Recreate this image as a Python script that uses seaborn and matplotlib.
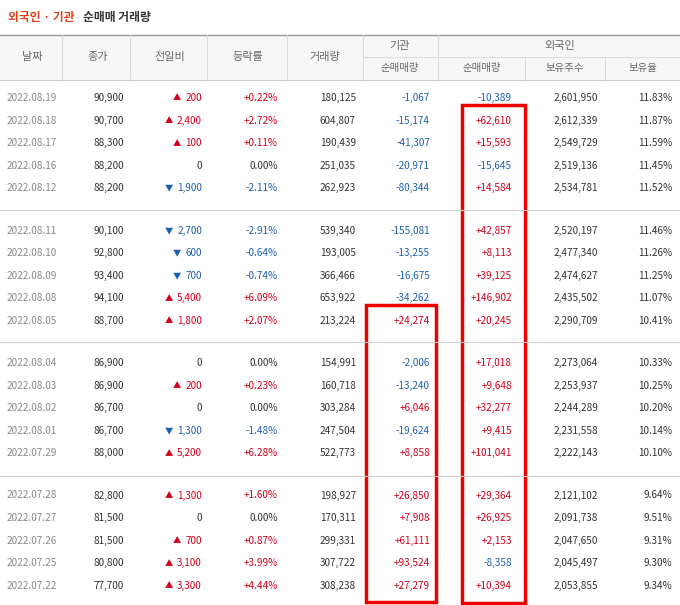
import matplotlib
matplotlib.use("Agg")
import matplotlib.pyplot as plt
import seaborn as sns
from matplotlib.patches import Rectangle

dates = ["2022.08.19","2022.08.18","2022.08.17","2022.08.16","2022.08.12",
         "2022.08.11","2022.08.10","2022.08.09","2022.08.08","2022.08.05",
         "2022.08.04","2022.08.03","2022.08.02","2022.08.01","2022.07.29",
         "2022.07.28","2022.07.27","2022.07.26","2022.07.25","2022.07.22"]
close = [90900,90700,88300,88200,88200,90100,92800,93400,94100,88700,
         86900,86900,86700,86700,88000,82800,81500,81500,80800,77700]
change = [200,2400,100,0,-1900,-2700,-600,-700,5400,1800,
          0,200,0,-1300,5200,1300,0,700,3100,3300]
rate = [0.22,2.72,0.11,0.00,-2.11,-2.91,-0.64,-0.74,6.09,2.07,
        0.00,0.23,0.00,-1.48,6.28,1.60,0.00,0.87,3.99,4.44]
volume = [180125,604807,190439,251035,262923,539340,193005,366466,653922,213224,
          154991,160718,303284,247504,522773,198927,170311,299331,307722,308238]
inst = [-1067,-15174,-41307,-20971,-80344,-155081,-13255,-16675,-34262,24274,
        -2006,-13240,6046,-19624,8858,26850,7908,61111,93524,27279]
foreign = [-10389,62610,15593,-15645,14584,42857,8113,39125,146902,20245,
           17018,9648,32277,9415,101041,29364,26925,2153,-8358,10394]
holdings = [2601950,2612339,2549729,2519136,2534781,2520197,2477340,2474627,2435502,2290709,
            2273064,2253937,2244289,2231558,2222143,2121102,2091738,2047650,2045497,2053855]
hold_rate = [11.83,11.87,11.59,11.45,11.52,11.46,11.26,11.25,11.07,10.41,
             10.33,10.25,10.20,10.14,10.10,9.64,9.51,9.31,9.30,9.34]

sns.set_theme(style="white", font="Noto Sans CJK KR")
RED = "#d0021b"; BLUE = "#1f5fb0"; DARK = "#333333"; GRAY = "#888888"
fig = plt.figure(figsize=(6.8, 6.05), dpi=100)
ax = fig.add_axes([0, 0, 1, 1])
ax.set_xlim(0, 680); ax.set_ylim(605, 0); ax.axis("off")
fs = 7.2

ax.text(8, 18, "외국인 · 기관", color="#e0431b", fontsize=8.5, fontweight="bold", va="center")
ax.text(83, 18, "순매매 거래량", color=DARK, fontsize=8.5, fontweight="bold", va="center")

ax.add_patch(Rectangle((0, 35), 680, 45, color="#f7f7f7", zorder=0))
ax.plot([0, 680], [35, 35], color="#999999", lw=1)
ax.plot([0, 680], [80, 80], color="#cccccc", lw=0.8)
ax.plot([363, 680], [57, 57], color="#dddddd", lw=0.8)
for x in [62, 130, 207, 287, 363, 438]:
    ax.plot([x, x], [35, 80], color="#dddddd", lw=0.8)
ax.plot([525, 525], [57, 80], color="#dddddd", lw=0.8)
ax.plot([605, 605], [57, 80], color="#dddddd", lw=0.8)
hc = "#666666"
for x, t in [(32, "날짜"), (98, "종가"), (170, "전일비"), (248, "등락률"), (325, "거래량")]:
    ax.text(x, 57, t, ha="center", va="center", color=hc, fontsize=8)
ax.text(400, 46, "기관", ha="center", va="center", color=hc, fontsize=8)
ax.text(560, 46, "외국인", ha="center", va="center", color=hc, fontsize=8)
for x, t in [(400, "순매매량"), (482, "순매매량"), (565, "보유주수"), (643, "보유율")]:
    ax.text(x, 68, t, ha="center", va="center", color=hc, fontsize=7.5)

def sc(v):
    return RED if v > 0 else (BLUE if v < 0 else DARK)

for i in range(len(dates)):
    g, r = divmod(i, 5)
    y = 98 + g * 132.5 + r * 22.6
    ax.text(7, y, dates[i], color=GRAY, fontsize=fs, va="center")
    ax.text(124, y, f"{close[i]:,}", color=DARK, fontsize=fs, va="center", ha="right")
    c = change[i]
    s = f"{abs(c):,}"
    ax.text(202, y, s, color=sc(c), fontsize=fs, va="center", ha="right")
    if c != 0:
        w = sum(2.5 if ch == "," else 5.6 for ch in s)
        ax.text(202 - w - 4, y, "▲" if c > 0 else "▼", color=sc(c), fontsize=6, va="center", ha="right")
    rt = rate[i]
    ax.text(278, y, f"{rt:+.2f}%" if rt != 0 else "0.00%", color=sc(rt), fontsize=fs, va="center", ha="right")
    ax.text(356, y, f"{volume[i]:,}", color=DARK, fontsize=fs, va="center", ha="right")
    ax.text(430, y, f"{inst[i]:+,}", color=sc(inst[i]), fontsize=fs, va="center", ha="right")
    ax.text(512, y, f"{foreign[i]:+,}", color=sc(foreign[i]), fontsize=fs, va="center", ha="right")
    ax.text(598, y, f"{holdings[i]:,}", color=DARK, fontsize=fs, va="center", ha="right")
    ax.text(672, y, f"{hold_rate[i]:.2f}%", color=DARK, fontsize=fs, va="center", ha="right")

for yl in [210, 342, 476]:
    ax.plot([0, 680], [yl, yl], color="#cccccc", lw=0.8)

ax.add_patch(Rectangle((366, 305), 70, 297, fill=False, ec="#ee0000", lw=2.5))
ax.add_patch(Rectangle((462, 105), 63, 498, fill=False, ec="#ee0000", lw=2.5))

fig.savefig("out.png", dpi=100)
